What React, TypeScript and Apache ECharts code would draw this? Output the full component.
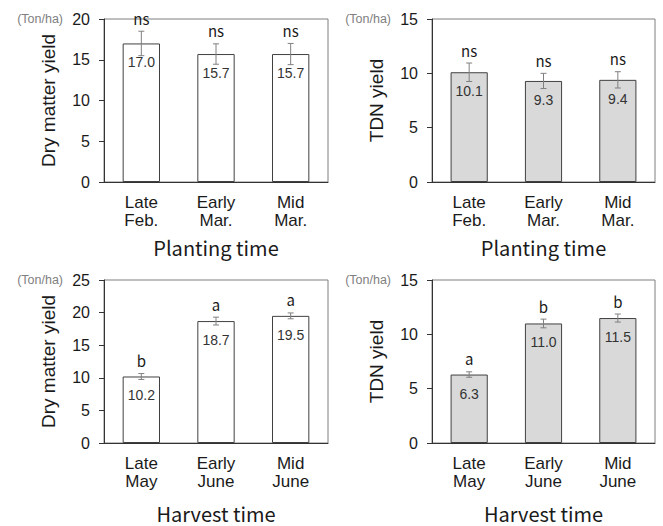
import React, { useEffect, useRef } from "react";
import * as echarts from "echarts";

const plantingCats = ["Late\nFeb.", "Early\nMar.", "Mid\nMar."];
const harvestCats = ["Late\nMay", "Early\nJune", "Mid\nJune"];

const dmPlanting = [17.0, 15.7, 15.7];
const dmPlantingErr = [1.5, 1.25, 1.3];
const dmPlantingSig = ["ns", "ns", "ns"];

const tdnPlanting = [10.1, 9.3, 9.4];
const tdnPlantingErr = [0.85, 0.7, 0.75];
const tdnPlantingSig = ["ns", "ns", "ns"];

const dmHarvest = [10.2, 18.7, 19.5];
const dmHarvestErr = [0.45, 0.6, 0.45];
const dmHarvestSig = ["b", "a", "a"];

const tdnHarvest = [6.3, 11.0, 11.5];
const tdnHarvestErr = [0.25, 0.4, 0.37];
const tdnHarvestSig = ["a", "b", "b"];

const yMaxes = [20, 15, 25, 15];
const yNames = ["Dry matter yield", "TDN yield", "Dry matter yield", "TDN yield"];
const xNames = ["Planting time", "Planting time", "Harvest time", "Harvest time"];
const unitLabel = "(Ton/ha)";

const ARIAL = "'Liberation Sans', Arial, sans-serif";
const KR = "'Noto Sans CJK KR', 'Noto Sans', sans-serif";

export default function App() {
  const ref = useRef<HTMLDivElement>(null);
  useEffect(() => {
    if (!ref.current) return;
    const chart = echarts.init(ref.current, null, { renderer: "svg" });

    const panels = [
      { cats: plantingCats, vals: dmPlanting, errs: dmPlantingErr, sig: dmPlantingSig, fill: "#ffffff" },
      { cats: plantingCats, vals: tdnPlanting, errs: tdnPlantingErr, sig: tdnPlantingSig, fill: "#d9d9d9" },
      { cats: harvestCats, vals: dmHarvest, errs: dmHarvestErr, sig: dmHarvestSig, fill: "#ffffff" },
      { cats: harvestCats, vals: tdnHarvest, errs: tdnHarvestErr, sig: tdnHarvestSig, fill: "#d9d9d9" },
    ];
    const gridPos = [
      { left: 104, top: 19, width: 224, height: 163 },
      { left: 432, top: 19, width: 223, height: 163 },
      { left: 104, top: 280, width: 224, height: 163 },
      { left: 432, top: 280, width: 223, height: 163 },
    ];
    const xNameGaps = [55, 55, 60, 60];

    const grid = gridPos.map((g) => ({
      ...g,
      show: true,
      borderColor: "#7f7f7f",
      borderWidth: 1,
      backgroundColor: "transparent",
      containLabel: false,
    }));

    const xAxis = panels.map((p, i) => ({
      type: "category",
      gridIndex: i,
      data: p.cats,
      axisLine: { show: true, lineStyle: { color: "#333333", width: 1 } },
      axisTick: { show: false },
      axisLabel: {
        color: "#1a1a1a",
        fontFamily: ARIAL,
        fontSize: 17,
        lineHeight: 17.5,
        margin: 12,
        interval: 0,
      },
      name: xNames[i],
      nameLocation: "middle",
      nameGap: xNameGaps[i],
      nameTextStyle: { color: "#1a1a1a", fontFamily: KR, fontSize: 20, lineHeight: 20 },
    }));

    const yAxis = panels.map((p, i) => ({
      type: "value",
      gridIndex: i,
      min: 0,
      max: yMaxes[i],
      interval: 5,
      splitLine: { show: false },
      axisLine: { show: true, lineStyle: { color: "#333333", width: 1 } },
      axisTick: { show: true, inside: false, length: 5, lineStyle: { color: "#333333" } },
      axisLabel: { color: "#1a1a1a", fontFamily: ARIAL, fontSize: 16, margin: 14 },
      name: yNames[i],
      nameLocation: "middle",
      nameGap: 46,
      nameTextStyle: { color: "#1a1a1a", fontFamily: ARIAL, fontSize: 19 },
    }));

    const series: any[] = [];
    panels.forEach((p, i) => {
      series.push({
        type: "bar",
        xAxisIndex: i,
        yAxisIndex: i,
        data: p.vals,
        barWidth: "50%",
        itemStyle: { color: p.fill, borderColor: "#404040", borderWidth: 1 },
        label: {
          show: true,
          position: "insideTop",
          distance: 12,
          formatter: (d: any) => Number(d.value).toFixed(1),
          color: "#333333",
          fontFamily: ARIAL,
          fontSize: 14,
        },
        z: 2,
      });
      series.push({
        type: "custom",
        xAxisIndex: i,
        yAxisIndex: i,
        clip: false,
        data: p.vals.map((v, k) => [k, v, p.errs[k]]),
        encode: { x: 0, y: 1 },
        renderItem: (params: any, api: any) => {
          const x = api.value(0);
          const v = api.value(1);
          const e = api.value(2);
          const top = api.coord([x, v + e]);
          const bot = api.coord([x, v - e]);
          const cap = 3;
          const st = { stroke: "#808080", lineWidth: 1 };
          return {
            type: "group",
            children: [
              { type: "line", shape: { x1: top[0], y1: top[1], x2: bot[0], y2: bot[1] }, style: st },
              { type: "line", shape: { x1: top[0] - cap, y1: top[1], x2: top[0] + cap, y2: top[1] }, style: st },
              { type: "line", shape: { x1: bot[0] - cap, y1: bot[1], x2: bot[0] + cap, y2: bot[1] }, style: st },
              {
                type: "text",
                x: top[0],
                y: top[1] - 13,
                style: {
                  text: p.sig[params.dataIndex],
                  fill: "#1a1a1a",
                  font: `15px ${KR}`,
                  textAlign: "center",
                  textVerticalAlign: "middle",
                },
              },
            ],
          };
        },
        z: 3,
      });
    });

    const graphic = [
      { type: "text", right: 663 - 63, top: 12, style: { text: unitLabel, fill: "#808080", font: `12.5px ${ARIAL}` } },
      { type: "text", right: 663 - 391, top: 12, style: { text: unitLabel, fill: "#808080", font: `12.5px ${ARIAL}` } },
      { type: "text", right: 663 - 63, top: 273, style: { text: unitLabel, fill: "#808080", font: `12.5px ${ARIAL}` } },
      { type: "text", right: 663 - 391, top: 273, style: { text: unitLabel, fill: "#808080", font: `12.5px ${ARIAL}` } },
    ];

    chart.setOption({
      animation: false,
      backgroundColor: "#ffffff",
      grid,
      xAxis,
      yAxis,
      series,
      graphic,
    });
    return () => chart.dispose();
  }, []);

  return (
    <div
      ref={ref}
      style={{ position: "fixed", left: 0, top: 0, width: 663, height: 526 }}
    />
  );
}
